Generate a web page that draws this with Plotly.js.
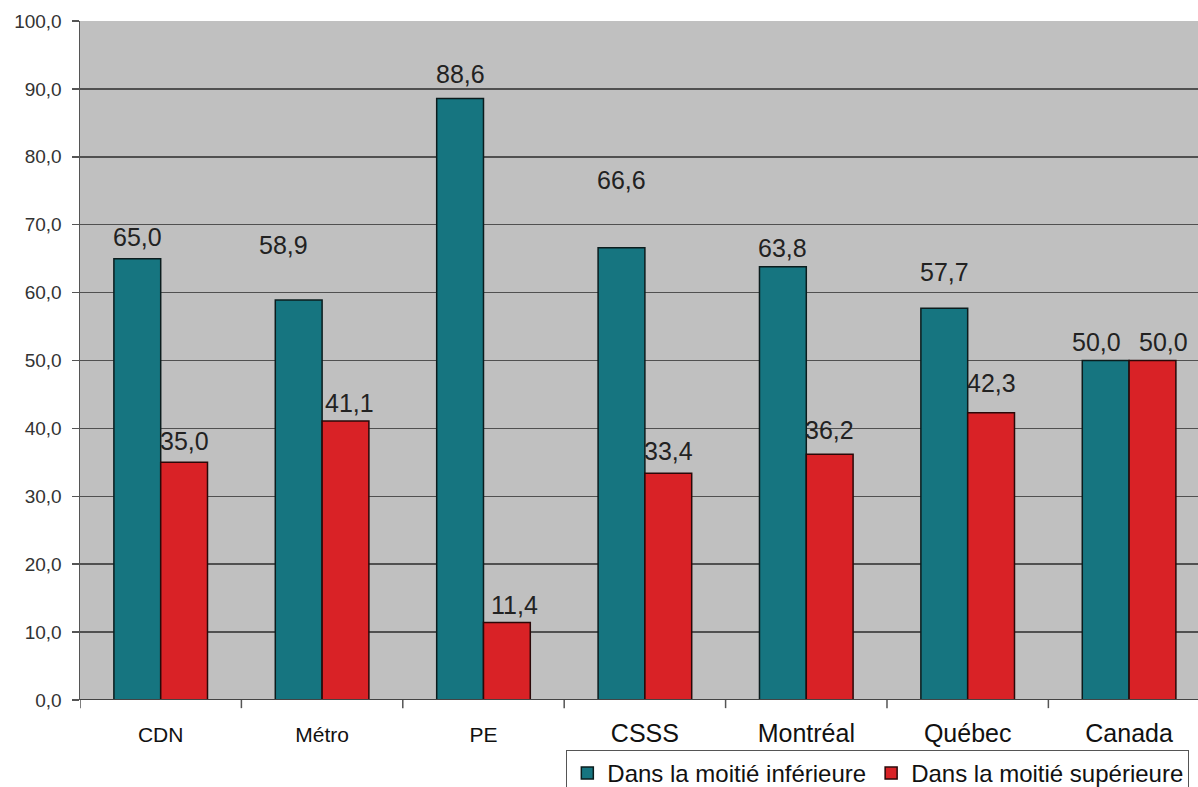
<!DOCTYPE html>
<html>
<head>
<meta charset="utf-8">
<script src="https://cdn.plot.ly/plotly-3.0.1.min.js"></script>
<style>html,body{margin:0;padding:0;background:#fff;overflow:hidden;}#wrap{width:1198px;height:787px;overflow:hidden;}#chart{width:1198px;height:820px;}</style>
</head>
<body>
<div id="wrap"><div id="chart"></div></div>
<script>
const categories = ["CDN", "Métro", "PE", "CSSS", "Montréal", "Québec", "Canada"];
const lowerHalf = [65.0, 58.9, 88.6, 66.6, 63.8, 57.7, 50.0];
const upperHalf = [35.0, 41.1, 11.4, 33.4, 36.2, 42.3, 50.0];
const seriesNames = ["Dans la moitié inférieure", "Dans la moitié supérieure"];
const categoryLabelSizes = [21, 21, 21, 25, 25, 25, 25];
// label offsets relative to bar tops (px), as seen in the reference
const lowerLabelLift = [22, 55, 24, 68, 19, 36, 19];
const upperLabelLift = [21, 18, 18, 22, 24, 30, 19];
const lowerLabelNudge = [0, -15, 0, 0, 0, 0, -9];
const upperLabelNudge = [0, 4, 8, 0, 0, 0, 11];

const idx = categories.map((c, i) => i);
const bargap = 0.42;
const half = (1 - bargap) / 4;
const FONT = 'Liberation Sans, Arial, sans-serif';

const fmt = v => v.toFixed(1).replace('.', ',');

const traces = [
  {type: 'bar', name: seriesNames[0], x: idx, y: lowerHalf,
   marker: {color: '#167580', line: {color: '#0b1c1d', width: 1.5}}, hoverinfo: 'y'},
  {type: 'bar', name: seriesNames[1], x: idx, y: upperHalf,
   marker: {color: '#d92226', line: {color: '#2a0808', width: 1.5}}, hoverinfo: 'y'}
];

const annotations = [];
idx.forEach(i => {
  annotations.push({x: i - half, y: lowerHalf[i], xref: 'x', yref: 'y', text: fmt(lowerHalf[i]),
    showarrow: false, yanchor: 'middle', yshift: lowerLabelLift[i], xshift: lowerLabelNudge[i],
    font: {family: FONT, size: 25, color: '#222'}});
  annotations.push({x: i + half, y: upperHalf[i], xref: 'x', yref: 'y', text: fmt(upperHalf[i]),
    showarrow: false, yanchor: 'middle', yshift: upperLabelLift[i], xshift: upperLabelNudge[i],
    font: {family: FONT, size: 25, color: '#222'}});
});

const layout = {
  width: 1198, height: 820,
  margin: {l: 80, r: 0, t: 21, b: 120},
  paper_bgcolor: '#ffffff',
  plot_bgcolor: '#c0c0c0',
  separators: ', ',
  barmode: 'group',
  bargap: bargap,
  bargroupgap: 0,
  font: {family: FONT, color: '#222'},
  showlegend: true,
  legend: {
    orientation: 'h', x: 0.435, xanchor: 'left', y: -50 / 679, yanchor: 'top',
    bgcolor: '#ffffff', bordercolor: '#555', borderwidth: 1,
    font: {size: 24, color: '#111'}, itemwidth: 30, tracegroupgap: 0
  },
  xaxis: {
    type: 'linear', range: [-0.5, 6.427],
    tickmode: 'array', tickvals: idx,
    ticktext: categories.map((c, i) => '<span style="font-size:' + categoryLabelSizes[i] + 'px">' + c + '</span>'),
    ticks: '', showgrid: false, zeroline: false,
    showline: false,
    tickfont: {size: 25, color: '#111'},
    ticklabelstandoff: 16
  },
  yaxis: {
    range: [0, 100], dtick: 10, tick0: 0, tickformat: '.1f',
    showgrid: true, gridcolor: '#505050', gridwidth: 1.5,
    zeroline: false, showline: true, linecolor: '#555', linewidth: 1.5,
    ticks: 'outside', ticklen: 7, tickcolor: '#555', tickwidth: 1.5,
    tickfont: {size: 19, color: '#333'}, ticklabelstandoff: 6
  },
  shapes: [
    {type: 'line', xref: 'paper', yref: 'y', x0: 0, x1: 1, y0: 0, y1: 0, line: {color: '#444', width: 2}}
  ].concat([0,1,2,3,4,5,6].map(k => ({type: 'line', xref: 'x', yref: 'paper', x0: k - 0.5, x1: k - 0.5, y0: 0, y1: -0.012, line: {color: '#555', width: 1.5}}))),
  annotations: annotations
};

Plotly.newPlot('chart', traces, layout, {displayModeBar: false, staticPlot: true});
</script>
</body>
</html>
